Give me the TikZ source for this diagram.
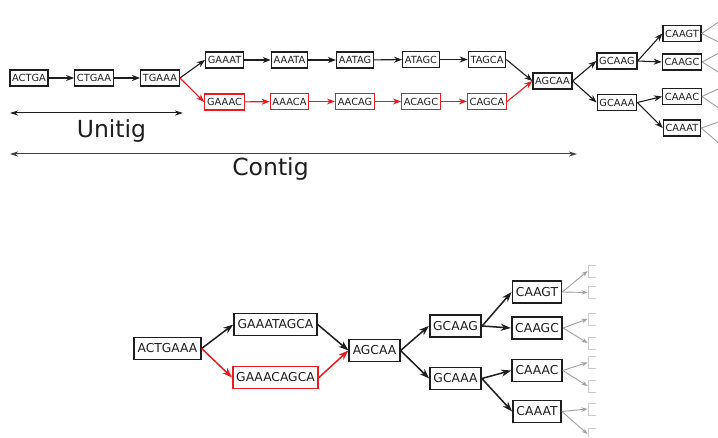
\documentclass[tikz,border=0pt]{standalone}
\usepackage{fontspec}
\setmainfont{DejaVu Sans}
\usetikzlibrary{arrows.meta}
\definecolor{myred}{RGB}{230,28,32}
\definecolor{ink}{RGB}{30,30,30}
\definecolor{fadeline}{RGB}{160,160,160}
\definecolor{fadebox}{RGB}{205,205,205}
\begin{document}
\begin{tikzpicture}[x=1pt,y=-1pt,
  kt/.style={draw=ink, line width=1.3pt, fill=white, font=\fontsize{9.8}{10}\selectfont, text=ink, inner xsep=2.2pt, inner ysep=0pt, minimum height=16pt},
  ktr/.style={kt, draw=myred},
  kb/.style={draw=ink, line width=1.8pt, fill=white, font=\fontsize{12.3}{13}\selectfont, text=ink, inner xsep=3.4pt, inner ysep=0pt, minimum height=22pt},
  kbr/.style={kb, draw=myred, line width=1.5pt},
  kg/.style={draw=fadebox, line width=0.9pt, minimum width=30pt, minimum height=12pt, inner sep=0pt},
  et/.style={draw=ink, line width=1.1pt, -{Stealth[length=8pt,width=6pt,inset=2.5pt]}},
  etr/.style={et, draw=myred},
  eb/.style={draw=ink, line width=1.5pt, -{Stealth[length=10pt,width=7pt,inset=3pt]}},
  ebr/.style={eb, draw=myred},
  eg/.style={draw=fadeline, line width=0.9pt, -{Stealth[length=6pt,width=4.5pt,inset=2pt]}},
  span/.style={draw=ink, line width=1pt, {Stealth[length=8pt,width=5pt,inset=2.5pt]}-{Stealth[length=8pt,width=5pt,inset=2.5pt]}},
  lbl/.style={font=\fontsize{23.5}{25}\selectfont, text=ink, inner sep=0pt}
]
\useasboundingbox (0,0) rectangle (718,438);
\clip (0,0) rectangle (718,438);
\fill[white] (0,0) rectangle (718,438);

% ---------- top graph ----------
\node[kt] (a1) at (29,78) {ACTGA};
\node[kt] (a2) at (94,78) {CTGAA};
\node[kt] (a3) at (160,78) {TGAAA};
\node[kt] (u1) at (224.5,60) {GAAAT};
\node[kt] (u2) at (289.5,60) {AAATA};
\node[kt] (u3) at (355,60) {AATAG};
\node[kt] (u4) at (421,59.5) {ATAGC};
\node[kt] (u5) at (487,59.5) {TAGCA};
\node[ktr] (r1) at (224.5,102) {GAAAC};
\node[ktr] (r2) at (289.5,101.5) {AAACA};
\node[ktr] (r3) at (355,101.5) {AACAG};
\node[ktr] (r4) at (421,101.5) {ACAGC};
\node[ktr] (r5) at (487,101.5) {CAGCA};
\node[kt] (m) at (552.5,81) {AGCAA};
\node[kt] (g1) at (617,61) {GCAAG};
\node[kt] (g2) at (617,102.5) {GCAAA};
\node[kt] (c1) at (682,33.5) {CAAGT};
\node[kt] (c2) at (682,62) {CAAGC};
\node[kt] (c3) at (682,96.5) {CAAAC};
\node[kt] (c4) at (682,128) {CAAAT};

\draw[et] (a1) -- (a2);
\draw[et] (a2) -- (a3);
\draw[et] (a3.east) -- (u1.west);
\draw[etr] (a3.east) -- (r1.west);
\draw[et] (u1) -- (u2);
\draw[et] (u2) -- (u3);
\draw[et] (u3) -- (u4);
\draw[et] (u4) -- (u5);
\draw[etr] (r1) -- (r2);
\draw[etr] (r2) -- (r3);
\draw[etr] (r3) -- (r4);
\draw[etr] (r4) -- (r5);
\draw[et] (u5.east) -- (m.west);
\draw[etr] (r5.east) -- (m.west);
\draw[et] (m.east) -- (g1.west);
\draw[et] (m.east) -- (g2.west);
\draw[et] (g1.east) -- (c1.west);
\draw[et] (g1.east) -- (c2.west);
\draw[et] (g2.east) -- (c3.west);
\draw[et] (g2.east) -- (c4.west);

% faded continuations (top, running off the edge)
\node[kg] (tc1a) at (740,18) {};
\node[kg] (tc1b) at (740,45) {};
\node[kg] (tc2a) at (740,50) {};
\node[kg] (tc2b) at (740,76) {};
\node[kg] (tc3a) at (740,86) {};
\node[kg] (tc3b) at (740,112) {};
\node[kg] (tc4a) at (740,120) {};
\node[kg] (tc4b) at (740,148) {};
\draw[eg] (c1.east) -- (tc1a.west);
\draw[eg] (c1.east) -- (tc1b.west);
\draw[eg] (c2.east) -- (tc2a.west);
\draw[eg] (c2.east) -- (tc2b.west);
\draw[eg] (c3.east) -- (tc3a.west);
\draw[eg] (c3.east) -- (tc3b.west);
\draw[eg] (c4.east) -- (tc4a.west);
\draw[eg] (c4.east) -- (tc4b.west);

% spans
\coordinate (us) at (10,113);
\coordinate (ue) at (183,113);
\coordinate (cs) at (10,154);
\coordinate (ce) at (577,154);
\draw[span] (us) -- (ue);
\draw[span, draw=ink!85] (cs) -- (ce);
\node[lbl] (ul) at (111.5,131.5) {Unitig};
\node[lbl] (cl) at (270.5,169.5) {Contig};

% ---------- bottom graph ----------
\node[kb] (b0) at (167.5,348.5) {ACTGAAA};
\node[kb] (bu) at (275.5,324.5) {GAAATAGCA};
\node[kbr] (br) at (275.5,377.5) {GAAACAGCA};
\node[kb] (bm) at (374.5,350.5) {AGCAA};
\node[kb] (bg1) at (455.5,326) {GCAAG};
\node[kb] (bg2) at (455.5,378.5) {GCAAA};
\node[kb] (bc1) at (537,292) {CAAGT};
\node[kb] (bc2) at (537,328) {CAAGC};
\node[kb] (bc3) at (537,370.5) {CAAAC};
\node[kb] (bc4) at (537,411.5) {CAAAT};

\draw[eb] (b0.east) -- (bu.west);
\draw[ebr] (b0.east) -- (br.west);
\draw[eb] (bu.east) -- (bm.west);
\draw[ebr] (br.east) -- (bm.west);
\draw[eb] (bm.east) -- (bg1.west);
\draw[eb] (bm.east) -- (bg2.west);
\draw[eb] (bg1.east) -- (bc1.west);
\draw[eb] (bg1.east) -- (bc2.west);
\draw[eb] (bg2.east) -- (bc3.west);
\draw[eb] (bg2.east) -- (bc4.west);

% faded continuations (bottom)
\node[kg] (bk1a) at (603,271) {};
\node[kg] (bk1b) at (603,292.5) {};
\node[kg] (bk2a) at (603,319) {};
\node[kg] (bk2b) at (603,343) {};
\node[kg] (bk3a) at (603,362.5) {};
\node[kg] (bk3b) at (603,386) {};
\node[kg] (bk4a) at (603,409) {};
\node[kg] (bk4b) at (603,434) {};
\draw[eg] (bc1.east) -- (bk1a.west);
\draw[eg] (bc1.east) -- (bk1b.west);
\draw[eg] (bc2.east) -- (bk2a.west);
\draw[eg] (bc2.east) -- (bk2b.west);
\draw[eg] (bc3.east) -- (bk3a.west);
\draw[eg] (bc3.east) -- (bk3b.west);
\draw[eg] (bc4.east) -- (bk4a.west);
\draw[eg] (bc4.east) -- (bk4b.west);
\fill[white] (596,255) rectangle (640,438);
\end{tikzpicture}
\end{document}
